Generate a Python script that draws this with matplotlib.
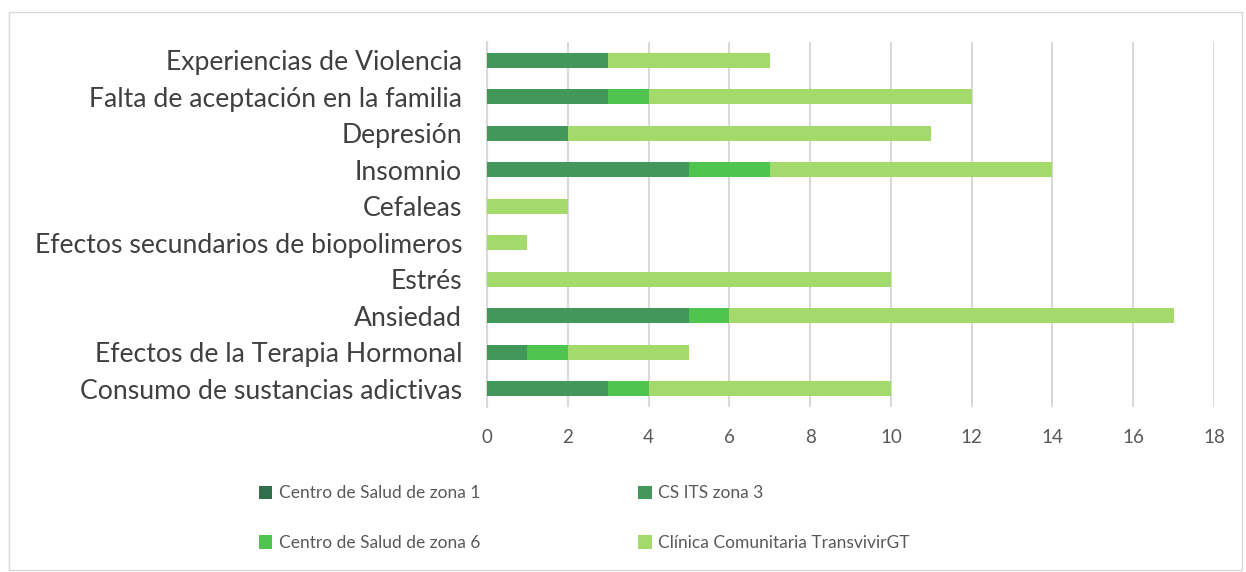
import numpy as np
import matplotlib
matplotlib.use('Agg')
from matplotlib import pyplot as plt
from matplotlib.patches import Rectangle

categorias = ['Experiencias de Violencia', 'Falta de aceptación en la familia', 'Depresión',
              'Insomnio', 'Cefaleas', 'Efectos secundarios de biopolimeros', 'Estrés',
              'Ansiedad', 'Efectos de la Terapia Hormonal', 'Consumo de sustancias adictivas']
zona1 = [0, 0, 0, 0, 0, 0, 0, 0, 0, 0]
zona3 = [3, 3, 2, 5, 0, 0, 0, 5, 1, 3]
zona6 = [0, 1, 0, 2, 0, 0, 0, 1, 1, 1]
transvivir = [4, 8, 9, 7, 2, 1, 10, 11, 3, 6]
series = ['Centro de Salud de zona 1', 'CS ITS zona 3', 'Centro de Salud de zona 6',
          'Clínica Comunitaria TransvivirGT']
colores = ['#336e4d', '#43975a', '#4fc44f', '#a4d96c']

plt.rcParams['font.family'] = ['Lato', 'DejaVu Sans']

fig = plt.figure(figsize=(12.46, 5.72), dpi=100)
ax = fig.add_axes([0.3909, 0.2885, 0.5834, 0.638])

y = np.arange(len(categorias))
izq = np.zeros(len(categorias))
barras = []
for nombre, vals, c in zip(series, [zona1, zona3, zona6, transvivir], colores):
    vals = np.array(vals, dtype=float)
    b = ax.barh(y, vals, left=izq, height=0.4, color=c, label=nombre, zorder=3)
    barras.append(b)
    izq += vals

ax.set_ylim(len(categorias) - 0.5, -0.5)
ax.set_xlim(0, 18)
ax.set_xticks(range(0, 19, 2))
ax.set_yticks(y)
ax.set_yticklabels(categorias, fontsize=19.2, color='#404040')
ax.tick_params(axis='x', labelsize=13.5, colors='#595959', length=0, pad=16)
ax.tick_params(axis='y', length=0, pad=18)
ax.grid(axis='x', color='#d9d9d9', linewidth=1.5, zorder=0)
for s in ['top', 'right', 'bottom']:
    ax.spines[s].set_visible(False)
ax.spines['left'].set_color('#d9d9d9')
ax.spines['left'].set_linewidth(1.5)

# orden por filas como en la leyenda original
orden = [0, 2, 1, 3]
fig.legend([barras[i] for i in orden], [series[i] for i in orden],
           loc='center left', bbox_to_anchor=(0.195, 0.094), ncol=2, frameon=False,
           fontsize=12.5, handlelength=0.8, handleheight=0.8, handletextpad=0.35,
           columnspacing=9.1, labelspacing=1.95, labelcolor='#595959')

fig.patches.append(Rectangle((0.007, 0.004), 0.99, 0.975, transform=fig.transFigure,
                             fill=False, edgecolor='#d9d9d9', linewidth=1))

fig.savefig('out.png', dpi=100)
